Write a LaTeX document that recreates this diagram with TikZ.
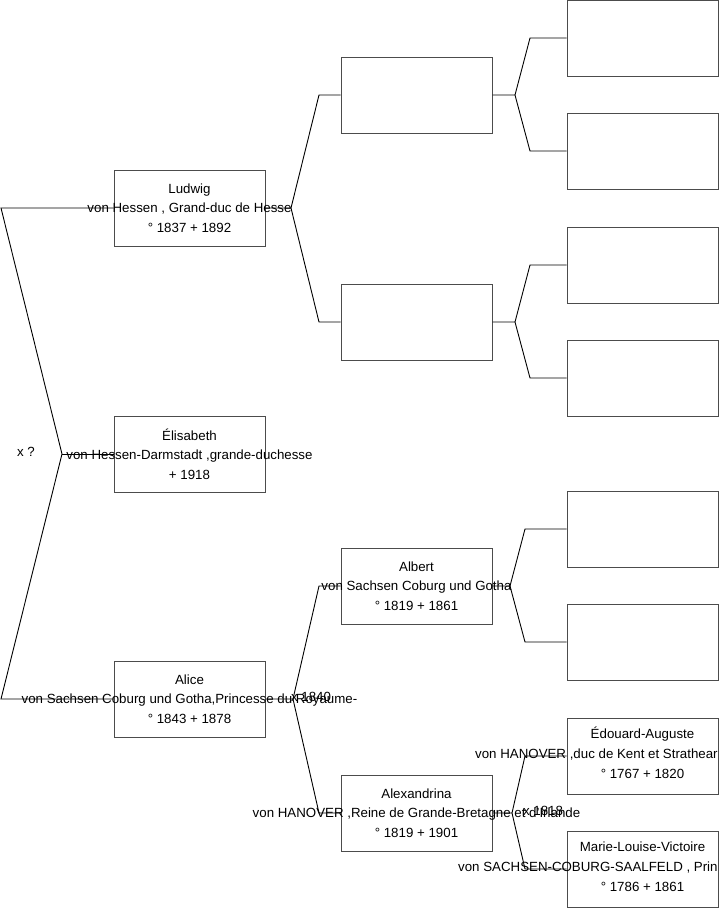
\documentclass[tikz,border=0pt]{standalone}
\usepackage{fontspec}
\setmainfont{Liberation Sans}
\begin{document}
\begin{tikzpicture}[x=1pt,y=-1pt,
  box/.style={draw=black!70, line width=1pt, fill=white, minimum width=151pt, minimum height=76pt, inner sep=0pt},
  txt/.style={align=center, font=\fontsize{13.3}{19.5}\selectfont, inner sep=0pt},
  one/.style={font=\fontsize{13.3}{15}\selectfont, inner sep=0pt},
  conn/.style={draw=black, line width=0.9pt}]
\useasboundingbox (0,0) rectangle (719,908);
% boxes
\node[box] (l) at (189.5,208) {};
\node[box] (e) at (189.5,454) {};
\node[box] (al) at (189.5,699) {};
\node[box] (p1) at (416.5,95) {};
\node[box] (p2) at (416.5,322) {};
\node[box] (ab) at (416.5,586) {};
\node[box] (ax) at (416.5,813) {};
\node[box] (g1) at (642.5,38) {};
\node[box] (g2) at (642.5,151) {};
\node[box] (g3) at (642.5,265) {};
\node[box] (g4) at (642.5,378) {};
\node[box] (g5) at (642.5,529) {};
\node[box] (g6) at (642.5,642) {};
\node[box] (ed) at (642.5,756) {};
\node[box] (ml) at (642.5,869) {};
% texts
\node[txt] (tl) at (l) {Ludwig\\von Hessen , Grand-duc de Hesse\\° 1837 + 1892};
\node[txt] (te) at (e) {Élisabeth\\von Hessen-Darmstadt ,grande-duchesse\\+ 1918};
\node[txt] (tal) at (al) {Alice\\von Sachsen Coburg und Gotha,Princesse du Royaume-\\° 1843 + 1878};
\node[txt] (tab) at (ab) {Albert\\von Sachsen Coburg und Gotha\\° 1819 + 1861};
\node[txt] (tax) at (ax) {Alexandrina\\von HANOVER ,Reine de Grande-Bretagne et d'Irlande\\° 1819 + 1901};
\node[one] (ted1) at (642.5,734) {Édouard-Auguste};
\node[one, anchor=west] (ted2) at (475,755) {von HANOVER ,duc de Kent et Strathear};
\node[one] (ted3) at (642.5,774) {° 1767 + 1820};
\node[one] (tml1) at (642.5,847) {Marie-Louise-Victoire};
\node[one, anchor=west] (tml2) at (458,868) {von SACHSEN-COBURG-SAALFELD , Prin};
\node[one] (tml3) at (642.5,887) {° 1786 + 1861};
% connectors
\coordinate (v0) at (62,454);
\draw[conn] (l.west) -- (1,208) -- (v0) -- (1,699) -- (al.west);
\draw[conn] (v0) -- (e.west);
\coordinate (v1) at (291,208);
\draw[conn] (l.east) -- (v1) -- (319,95) -- (p1.west);
\draw[conn] (v1) -- (319,322) -- (p2.west);
\coordinate (v2) at (515,95);
\draw[conn] (p1.east) -- (v2) -- (530,38) -- (g1.west);
\draw[conn] (v2) -- (530,151) -- (g2.west);
\coordinate (v3) at (515,322);
\draw[conn] (p2.east) -- (v3) -- (530,265) -- (g3.west);
\draw[conn] (v3) -- (530,378) -- (g4.west);
\coordinate (v4) at (293,699);
\draw[conn] (al.east) -- (v4) -- (319,586) -- (ab.west);
\draw[conn] (v4) -- (319,813) -- (ax.west);
\coordinate (v5) at (510,586);
\draw[conn] (ab.east) -- (v5) -- (525,529) -- (g5.west);
\draw[conn] (v5) -- (525,642) -- (g6.west);
\coordinate (v6) at (512,813);
\draw[conn] (ax.east) -- (v6) -- (525,756) -- (ed.west);
\draw[conn] (v6) -- (525,869) -- (ml.west);
% labels
\node[one] (x0) at (26,452) {x ?};
\node[one] (x1) at (311,697) {x 1840};
\node[one] (x2) at (543,811) {x 1818};
\end{tikzpicture}
\end{document}
